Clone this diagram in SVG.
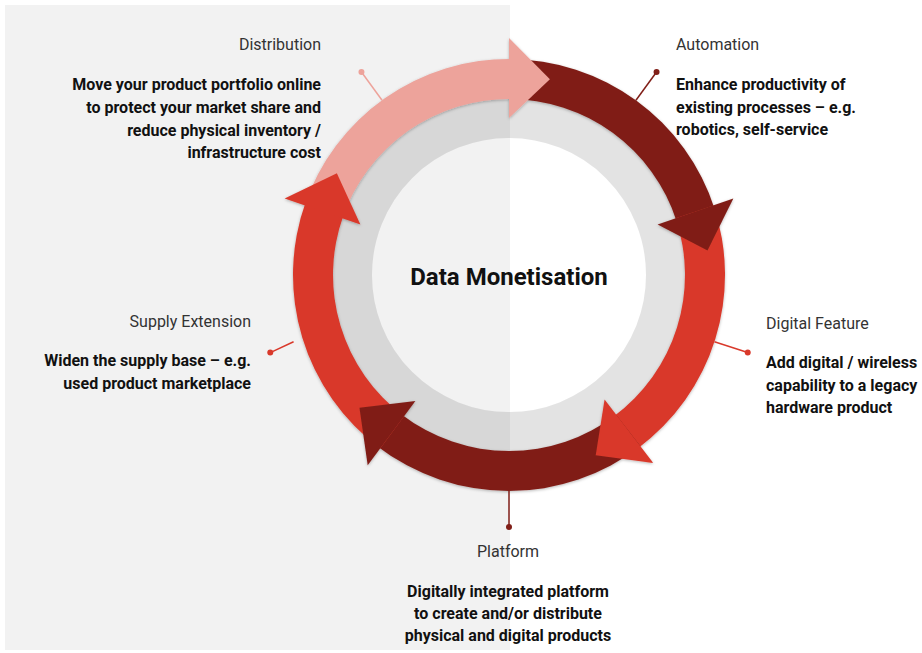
<svg xmlns="http://www.w3.org/2000/svg" width="922" height="653" viewBox="0 0 922 653">
  <defs>
    <filter id="soft" x="-10%" y="-10%" width="120%" height="120%">
      <feDropShadow dx="0" dy="1" stdDeviation="1.4" flood-color="#000" flood-opacity="0.28"/>
    </filter>
  </defs>
  <style>
    .title { font-family: Roboto, "Liberation Sans", sans-serif; font-size: 16px; fill: #333333; }
    .desc { font-family: Roboto, "Liberation Sans", sans-serif; font-size: 16px; font-weight: bold; fill: #111111; }
    .centre { font-family: Roboto, "Liberation Sans", sans-serif; font-size: 24px; font-weight: bold; fill: #111111; }
    .pink { fill: #eda39b; }
    .dark { fill: #801f18; }
    .red { fill: #d9392b; }
    .lead { stroke-width: 1.5; fill: none; }
  </style>

  <!-- left half panel -->
  <rect x="5" y="5" width="505" height="645" fill="#f2f2f2"/>

  <!-- translucent inner ring -->
  <circle cx="509" cy="275" r="160" fill="none" stroke="#000" stroke-opacity="0.11" stroke-width="46"/>

  <!-- cycle arrows: bands first, heads on top -->
  <g id="cycle" filter="url(#soft)">
    <g id="arrow-bodies">
      <path class="pink" d="M304.53,205.38 A216,216 0 0 1 512.77,59.03 L512.07,99.03 A176,176 0 0 0 342.40,218.28 Z"/>
      <path class="dark" d="M509,59 A216,216 0 0 1 714.65,208.97 L676.57,221.20 A176,176 0 0 0 509,99 Z"/>
      <path class="red" d="M713.47,205.38 A216,216 0 0 1 637.48,448.64 L613.68,416.49 A176,176 0 0 0 675.60,218.28 Z"/>
      <path class="dark" d="M640.50,446.37 A216,216 0 0 1 377.22,446.16 L401.62,414.46 A176,176 0 0 0 616.15,414.64 Z"/>
      <path class="red" d="M380.22,448.40 A216,216 0 0 1 305.77,201.84 L343.40,215.39 A176,176 0 0 0 404.07,416.29 Z"/>
    </g>
    <g id="arrow-heads">
      <polygon class="pink" points="509,38 549.9,79.22 509,118"/>
      <polygon class="dark" points="733.34,198.61 707.5,250.62 657.62,224.40"/>
      <polygon class="red" points="653.29,463.04 595.74,455.22 604.58,399.56"/>
      <polygon class="dark" points="367.70,465.26 359.44,407.78 415.40,401.04"/>
      <polygon class="red" points="284.66,198.61 336.86,173.2 360.38,224.40"/>
    </g>
  </g>

  <!-- leader lines from the ring to each label -->
  <g id="connectors">
    <line class="lead" x1="382.04" y1="100.26" x2="361.46" y2="71.94" stroke="#eda39b"/>
    <circle cx="361.46" cy="71.94" r="3" fill="#eda39b"/>
    <line class="lead" x1="635.96" y1="100.26" x2="656.54" y2="71.94" stroke="#801f18"/>
    <circle cx="656.54" cy="71.94" r="3" fill="#801f18"/>
    <line class="lead" x1="714.44" y1="341.74" x2="747.73" y2="352.56" stroke="#d9392b"/>
    <circle cx="747.73" cy="352.56" r="3" fill="#d9392b"/>
    <line class="lead" x1="509" y1="491" x2="509" y2="527" stroke="#801f18"/>
    <circle cx="509" cy="527" r="3" fill="#801f18"/>
    <line class="lead" x1="293.56" y1="341.74" x2="270.27" y2="352.56" stroke="#d9392b"/>
    <circle cx="270.27" cy="352.56" r="3" fill="#d9392b"/>
  </g>

  <g id="centre">
    <text class="centre" x="509" y="285" text-anchor="middle">Data Monetisation</text>
  </g>

  <g id="distribution" text-anchor="end">
    <text class="title" x="321" y="50">Distribution</text>
    <text class="desc" x="321" y="90">Move your product portfolio online</text>
    <text class="desc" x="321" y="113">to protect your market share and</text>
    <text class="desc" x="321" y="136">reduce physical inventory /</text>
    <text class="desc" x="321" y="158">infrastructure cost</text>
  </g>

  <g id="automation">
    <text class="title" x="676" y="50">Automation</text>
    <text class="desc" x="676" y="90">Enhance productivity of</text>
    <text class="desc" x="676" y="113">existing processes – e.g.</text>
    <text class="desc" x="676" y="135">robotics, self-service</text>
  </g>

  <g id="digital-feature">
    <text class="title" x="766" y="329">Digital Feature</text>
    <text class="desc" x="766" y="368">Add digital / wireless</text>
    <text class="desc" x="766" y="391">capability to a legacy</text>
    <text class="desc" x="766" y="413">hardware product</text>
  </g>

  <g id="platform" text-anchor="middle">
    <text class="title" x="508" y="557">Platform</text>
    <text class="desc" x="508" y="597">Digitally integrated platform</text>
    <text class="desc" x="508" y="619">to create and/or distribute</text>
    <text class="desc" x="508" y="641">physical and digital products</text>
  </g>

  <g id="supply-extension" text-anchor="end">
    <text class="title" x="251" y="327">Supply Extension</text>
    <text class="desc" x="251" y="366">Widen the supply base – e.g.</text>
    <text class="desc" x="251" y="389">used product marketplace</text>
  </g>
</svg>
